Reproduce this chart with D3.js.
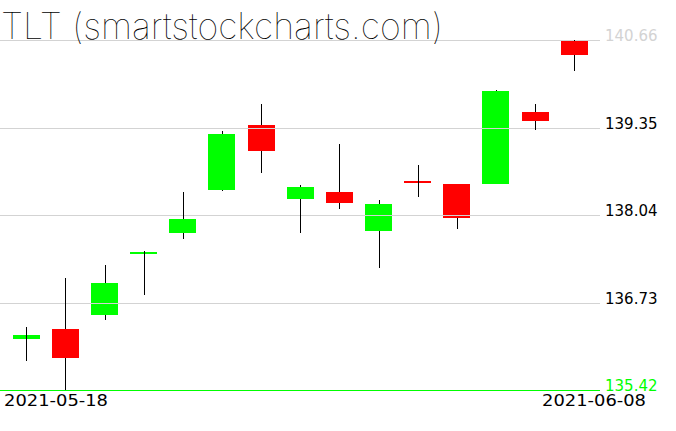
<!DOCTYPE html>
<html>
<head>
<meta charset="utf-8">
<script src="https://cdn.jsdelivr.net/npm/d3@7"></script>
<style>
  body { margin: 0; background: #fff; }
  svg { display: block; }
</style>
</head>
<body>
<script>
// daily candles, TLT
const dates = ["2021-05-18", "2021-05-19", "2021-05-20", "2021-05-21", "2021-05-24",
  "2021-05-25", "2021-05-26", "2021-05-27", "2021-05-28", "2021-06-01",
  "2021-06-02", "2021-06-03", "2021-06-04", "2021-06-07", "2021-06-08"];
const opens  = [136.19, 136.33, 136.54, 137.45, 137.77, 138.41, 139.39, 138.28, 138.39, 137.80, 138.55, 138.50, 138.51, 139.58, 140.65];
const closes = [136.24, 135.90, 137.02, 137.48, 137.98, 139.25, 139.00, 138.46, 138.22, 138.21, 138.52, 138.00, 139.90, 139.45, 140.44];
const highs  = [136.36, 137.10, 137.29, 137.50, 138.38, 139.30, 139.70, 138.49, 139.10, 138.27, 138.79, 138.51, 139.91, 139.70, 140.66];
const lows   = [135.85, 135.42, 136.47, 136.84, 137.68, 138.40, 138.67, 137.77, 138.13, 137.24, 138.31, 137.83, 138.50, 139.31, 140.20];
const yTicks = [135.42, 136.73, 138.04, 139.35, 140.66];
const dateLabels = ["2021-05-18", "2021-06-08"];

const width = 676;
const height = 431;

const svg = d3.select("body")
  .append("svg")
  .attr("width", width)
  .attr("height", height);

const x = d3.scaleBand()
  .domain(dates)
  .range([6.7, 593.8])
  .paddingInner(0.31)
  .paddingOuter(0.155);

const y = d3.scaleLinear()
  .domain([yTicks[0], yTicks[yTicks.length - 1]])
  .range([390, 40]);

const candles = dates.map((d, i) => ({
  date: d, open: opens[i], close: closes[i], high: highs[i], low: lows[i]
}));

const cx = (d) => Math.round(x(d.date) + x.bandwidth() / 2) + 0.5;

// bodies
svg.append("g")
  .selectAll("rect")
  .data(candles)
  .enter()
  .append("rect")
  .attr("shape-rendering", "crispEdges")
  .attr("x", (d) => x(d.date))
  .attr("width", x.bandwidth())
  .attr("y", (d) => y(Math.max(d.open, d.close)))
  .attr("height", (d) => Math.max(2, Math.abs(y(d.open) - y(d.close))))
  .style("fill", (d) => (d.close >= d.open ? "#00ff00" : "#ff0000"));

// grid + price labels
const grid = svg.append("g");
grid.selectAll("line")
  .data(yTicks)
  .enter()
  .append("line")
  .attr("shape-rendering", "crispEdges")
  .attr("x1", 0)
  .attr("x2", 600)
  .attr("y1", (d) => Math.round(y(d)) + 0.5)
  .attr("y2", (d) => Math.round(y(d)) + 0.5)
  .style("stroke", (d, i) => (i === 0 ? "#00ff00" : "#d3d3d3"))
  .style("stroke-width", 1);

grid.selectAll("text")
  .data(yTicks)
  .enter()
  .append("text")
  .attr("x", 605)
  .attr("y", (d) => y(d) + 1)
  .style("font-family", "DejaVu Sans")
  .style("font-size", "15px")
  .style("fill", (d, i) => (i === 0 ? "#00ff00" : i === yTicks.length - 1 ? "#d3d3d3" : "#000"))
  .text((d) => d.toFixed(2));

// wicks: outside the body, full length when the body is flat
const wicks = svg.append("g")
  .style("stroke", "#000")
  .style("stroke-width", 1)
  .attr("shape-rendering", "crispEdges");

candles.forEach((d) => {
  const top = y(Math.max(d.open, d.close));
  const bot = y(Math.min(d.open, d.close));
  if (bot - top < 5) {
    wicks.append("line").attr("x1", cx(d)).attr("x2", cx(d))
      .attr("y1", y(d.high)).attr("y2", y(d.low));
  } else {
    wicks.append("line").attr("x1", cx(d)).attr("x2", cx(d))
      .attr("y1", y(d.high)).attr("y2", top);
    wicks.append("line").attr("x1", cx(d)).attr("x2", cx(d))
      .attr("y1", bot).attr("y2", y(d.low));
  }
});

// date labels
svg.append("text")
  .attr("x", 4)
  .attr("y", 406)
  .attr("textLength", 104)
  .attr("lengthAdjust", "spacingAndGlyphs")
  .style("font-family", "DejaVu Sans")
  .style("font-size", "15px")
  .text(dateLabels[0]);

svg.append("text")
  .attr("x", 542)
  .attr("y", 406)
  .attr("textLength", 104)
  .attr("lengthAdjust", "spacingAndGlyphs")
  .style("font-family", "DejaVu Sans")
  .style("font-size", "15px")
  .text(dateLabels[1]);

// title
svg.append("text")
  .attr("x", 1)
  .attr("y", 39)
  .attr("textLength", 442)
  .attr("lengthAdjust", "spacingAndGlyphs")
  .style("font-family", "Inter")
  .style("font-weight", 100)
  .style("font-size", "36px")
  .style("fill", "#000")
  .text("TLT (smartstockcharts.com)");
</script>
</body>
</html>
